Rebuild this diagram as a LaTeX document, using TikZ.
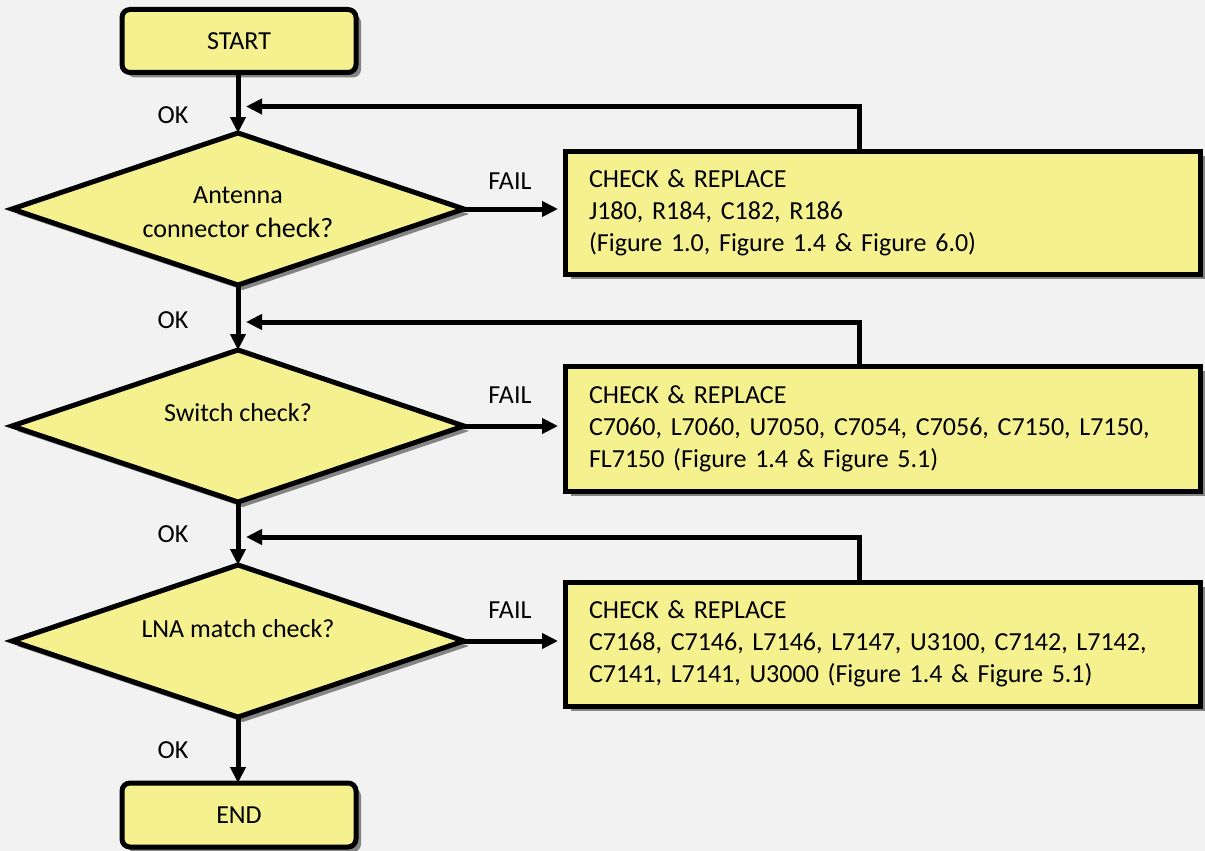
\documentclass[tikz,border=0pt]{standalone}
\usepackage{fontspec}
\setmainfont{Carlito}
\usetikzlibrary{shapes.geometric,arrows.meta,shadows}
\definecolor{bg}{RGB}{242,242,242}
\definecolor{boxfill}{RGB}{244,241,142}
\begin{document}
\begin{tikzpicture}[x=1pt,y=-1pt,
  font=\fontsize{26}{32}\selectfont,
  shade/.style={drop shadow={shadow xshift=5pt,shadow yshift=-5pt,fill=black,opacity=0.45}},
  termbox/.style={draw=black,line width=5pt,fill=boxfill,rounded corners=8pt,outer sep=0pt,inner sep=0pt,minimum width=234pt,minimum height=63pt,shade},
  decision/.style={diamond,draw=black,line width=5pt,fill=boxfill,aspect=3,inner sep=0pt,outer sep=0pt,minimum width=452pt,minimum height=152pt,shade},
  actbox/.style={draw=black,line width=5pt,fill=boxfill,outer sep=0pt,inner xsep=23.5pt,inner ysep=0pt,text width=588pt,align=left,minimum width=635pt,shade},
  dtext/.style={align=center,inner sep=0pt,font=\fontsize{26}{34}\selectfont},
  lbl/.style={inner sep=0pt},
  arr/.style={line width=5pt,-{Triangle[length=16pt,width=15pt]}}
]
\useasboundingbox[fill=bg] (0,0) rectangle (1205,851);

% shapes
\node[termbox] (start) at (239,41) {START};
\node[decision] (d1) at (238,209) {};
\node[decision] (d2) at (238,426) {};
\node[decision] (d3) at (238,641) {};
\node[termbox,minimum height=64pt] (end) at (239,815) {END};

\node[dtext] (t1) at (238,212) {Antenna\\connector {\fontsize{28}{34}\selectfont check?}};
\node[dtext] (t2) at (238,413) {Switch check?};
\node[dtext] (t3) at (238,629) {LNA match check?};

\node[actbox,minimum height=123pt] (b1) at (883,212.5) {CHECK \& REPLACE\\J180, R184, C182, R186\\(Figure 1.0, Figure 1.4 \& Figure 6.0)};
\node[actbox,minimum height=125pt] (b2) at (883,428.5) {CHECK \& REPLACE\\C7060, L7060, U7050, C7054, C7056, C7150, L7150,\\FL7150 (Figure 1.4 \& Figure 5.1)};
\node[actbox,minimum height=124pt] (b3) at (883,644) {CHECK \& REPLACE\\C7168, C7146, L7146, L7147, U3100, C7142, L7142,\\C7141, L7141, U3000 (Figure 1.4 \& Figure 5.1)};

% labels
\node[lbl] (ok1) at (173,115) {OK};
\node[lbl] (ok2) at (173,320) {OK};
\node[lbl] (ok3) at (173,534) {OK};
\node[lbl] (ok4) at (173,750) {OK};
\node[lbl] (fail1) at (510,181) {FAIL};
\node[lbl] (fail2) at (510,395) {FAIL};
\node[lbl] (fail3) at (510,610) {FAIL};

% main flow
\draw[arr] (start.south -| d1.north) -- (d1.north);
\draw[arr] (d1.south) -- (d2.north);
\draw[arr] (d2.south) -- (d3.north);
\draw[arr] (d3.south) -- (d3.south |- end.north);

% fail arrows
\draw[arr,shorten >=7.5pt] (d1.east) -- (d1.east -| b1.west);
\draw[arr,shorten >=7.5pt] (d2.east) -- (d2.east -| b2.west);
\draw[arr,shorten >=7.5pt] (d3.east) -- (d3.east -| b3.west);

% feedback loops
\coordinate (f1) at (859.5,106.5);
\coordinate (f2) at (859.5,322);
\coordinate (f3) at (859.5,537);
\draw[arr,shorten >=8pt] (b1.north -| f1) -- (f1) -- (f1 -| d1.north);
\draw[arr,shorten >=8pt] (b2.north -| f2) -- (f2) -- (f2 -| d2.north);
\draw[arr,shorten >=8pt] (b3.north -| f3) -- (f3) -- (f3 -| d3.north);
\end{tikzpicture}
\end{document}
